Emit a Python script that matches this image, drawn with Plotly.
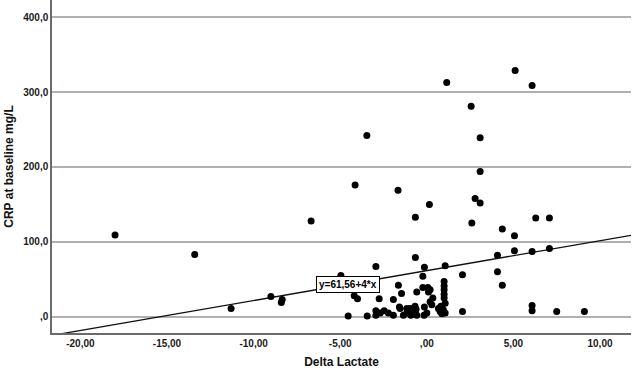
import plotly.graph_objects as go

# Scatter data (Delta Lactate vs CRP at baseline)
delta_lactate = [
    -18.0, -13.4, -11.3, -9.0, -8.35, -8.4,
    1.15, 2.56, -3.46, 3.08, 3.08, -4.14, -1.66, 2.79, 3.08, 0.15, -0.66, -6.68,
    5.1, 6.08, 2.6, 6.29, 7.08, 4.36, 5.06, 4.08, 5.06, 6.08, 7.08, 4.08, 4.36,
    6.08, 6.08, 7.5, 9.1,
    1.06, 2.06, -0.66, -0.14, -2.94, -4.96, -0.23, -4.19, -4.0, -1.64, -2.75,
    -1.93, -1.46, -0.58, -0.23, 0.06, 0.35, 0.29, -1.58, -1.15, -1.06, -0.68,
    -0.62, -0.14, 0.19, 0.19, 0.1,
    1.0, 1.0, 1.0, 1.0, 1.0, 1.06, 0.87, 0.96, 1.06, 0.81, 0.67, 0.77, 0.87, 2.06,
    -4.54, -3.44, -2.94, -2.94, -2.69, -2.46, -2.22, -1.93, -1.35, -1.15, -0.92,
    -0.68, -0.58, -0.16, 0.0, -0.96, -1.54,
]
crp_baseline = [
    109, 83, 11, 27, 23, 19,
    313, 281, 242, 239, 194, 176, 169, 158, 152, 150, 133, 128,
    329, 309, 125, 132, 132, 117, 108, 82, 88, 87, 91, 60, 42,
    15, 8, 7, 7,
    68, 56, 79, 66, 67, 55, 54, 28, 24, 42, 24,
    23, 31, 33, 39, 39, 25, 16, 13, 11, 8, 14,
    10, 13, 36, 20, 33,
    47, 41, 36, 30, 25, 18, 13, 9, 5, 14, 11, 7, 4, 7,
    1, 1, 8, 2, 5, 8, 5, 2, 2, 5, 2,
    5, 2, 2, 5, 11, 11,
]

# Fit line shown in the reference
fit_intercept = 61.56
fit_slope = 4.0
fit_label = "y=61,56+4*x"
label_pos = (-4.57, 43)

x_range = [-21.64, 11.79]
y_range = [-21.8, 423.1]

x_tickvals = [-20, -15, -10, -5, 0, 5, 10]
x_ticktext = ["-20,00", "-15,00", "-10,00", "-5,00", ",00", "5,00", "10,00"]
y_tickvals = [0, 100, 200, 300, 400]
y_ticktext = [",0", "100,0", "200,0", "300,0", "400,0"]

line_x = x_range
line_y = [fit_intercept + fit_slope * v for v in line_x]

FONT = "Liberation Sans"

fig = go.Figure()
fig.add_trace(go.Scatter(
    x=line_x, y=line_y, mode="lines",
    line=dict(color="#111111", width=1.3),
    hoverinfo="skip", showlegend=False,
))
fig.add_trace(go.Scatter(
    x=delta_lactate, y=crp_baseline, mode="markers",
    marker=dict(color="#000000", size=7),
    showlegend=False,
))

fig.add_annotation(
    x=label_pos[0], y=label_pos[1], text="<b>" + fit_label + "</b>",
    showarrow=False, bordercolor="#000000", borderwidth=1, borderpad=2,
    bgcolor="#ffffff", font=dict(family=FONT, size=10, color="#000000"),
)

fig.update_layout(
    width=632, height=370,
    margin=dict(l=52, r=1, t=0, b=37),
    paper_bgcolor="#ffffff", plot_bgcolor="#ffffff",
    font=dict(family=FONT, color="#222222"),
)
fig.update_xaxes(
    range=x_range, tickvals=x_tickvals, ticktext=x_ticktext,
    showgrid=False, zeroline=False, showline=True, linecolor="#6a6a6a", linewidth=1.5,
    ticks="", tickfont=dict(family=FONT, size=10, color="#1a1a1a", weight="bold"),
    title=dict(text="<b>Delta Lactate</b>", font=dict(family=FONT, size=12, color="#111111"), standoff=10),
)
fig.update_yaxes(
    range=y_range, tickvals=y_tickvals, ticktext=y_ticktext,
    showgrid=True, gridcolor="#b0b0b0", gridwidth=1.5,
    zeroline=False, showline=True, linecolor="#6a6a6a", linewidth=1.5,
    ticks="", tickfont=dict(family=FONT, size=10, color="#1a1a1a", weight="bold"),
    title=dict(text="<b>CRP at baseline mg/L</b>", font=dict(family=FONT, size=12, color="#111111"), standoff=7),
)

fig.write_html(
    "out.html",
    config={"displayModeBar": False},
    post_script="document.body.style.margin='0';document.body.style.overflow='hidden';",
)
